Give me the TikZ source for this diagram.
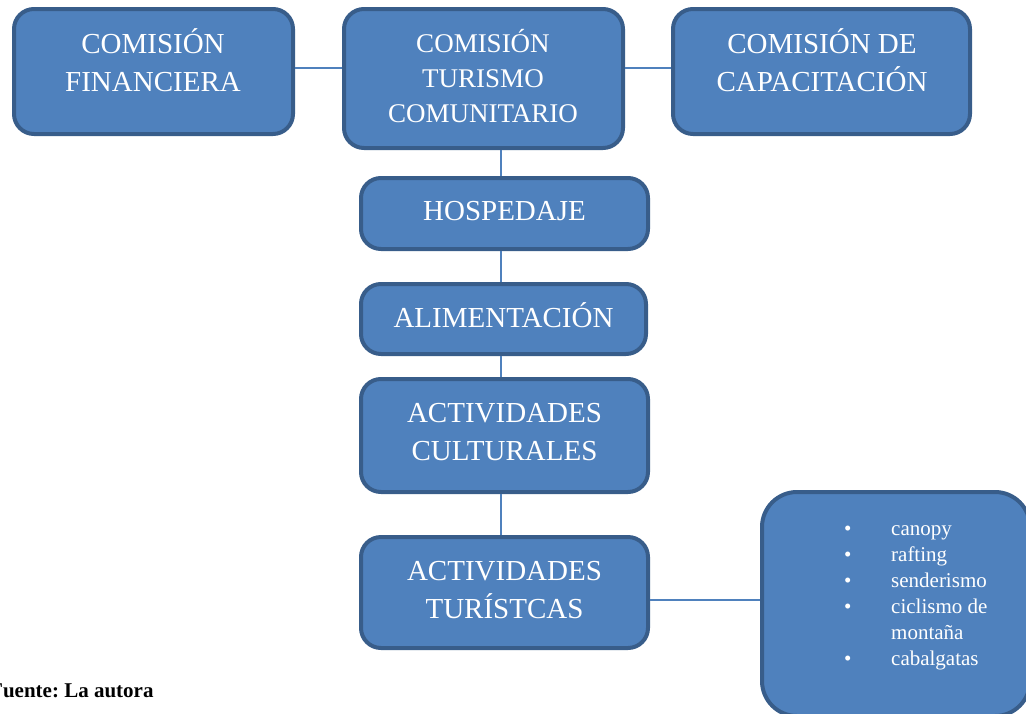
\documentclass[tikz,border=0pt]{standalone}
\usepackage{fontspec}
\setmainfont{Liberation Serif}
\definecolor{boxfill}{HTML}{4F81BD}
\definecolor{boxline}{HTML}{385D8A}
\begin{document}
\frenchspacing
\begin{tikzpicture}[x=1pt,y=-1pt,
  box/.style={draw=boxline, line width=4pt, fill=boxfill, rounded corners=20pt, inner sep=0pt},
  lbl/.style={text=white, align=center, inner sep=0pt, font=\fontsize{29}{38}\selectfont},
  conn/.style={draw=boxfill, line width=2pt}]
\useasboundingbox (0,0) rectangle (1026,713);
% boxes
\node[box, minimum width=279pt, minimum height=125pt] (fin) at (153.5,71.5) {};
\node[box, minimum width=279pt, minimum height=139pt] (tur) at (483.5,78.5) {};
\node[box, minimum width=297pt, minimum height=125pt] (cap) at (821.5,71.5) {};
\node[box, minimum width=287pt, minimum height=71pt] (hos) at (504.5,213.5) {};
\node[box, minimum width=285pt, minimum height=70pt] (ali) at (503.5,319) {};
\node[box, minimum width=287pt, minimum height=113pt] (cul) at (504.5,435.5) {};
\node[box, minimum width=287pt, minimum height=111pt] (act) at (504.5,592.5) {};
\node[box, rounded corners=35pt, minimum width=268pt, minimum height=224pt] (lst) at (896,604) {};
% connectors
\draw[conn] ([yshift=3.5pt]fin.east) -- ([yshift=3.5pt]fin.east -| tur.west);
\draw[conn] ([yshift=3.5pt]cap.west) -- ([yshift=3.5pt]cap.west -| tur.east);
\draw[conn] ([xshift=-3.5pt]hos.north) -- ([xshift=-3.5pt]hos.north |- tur.south);
\draw[conn] ([xshift=-3.5pt]hos.south) -- ([xshift=-3.5pt]hos.south |- ali.north);
\draw[conn] ([xshift=-2.5pt]ali.south) -- ([xshift=-2.5pt]ali.south |- cul.north);
\draw[conn] ([xshift=-3.5pt]cul.south) -- ([xshift=-3.5pt]cul.south |- act.north);
\draw[conn] ([yshift=-7.5pt]act.east) -- ([yshift=-7.5pt]act.east -| lst.west);
% texts
\node[lbl] (tfin) at (153,60) {COMISIÓN\\FINANCIERA};
\node[lbl, font=\fontsize{27}{35}\selectfont] (ttur) at (483,76) {COMISIÓN\\TURISMO\\COMUNITARIO};
\node[lbl] (tcap) at (822,60) {COMISIÓN DE\\CAPACITACIÓN};
\node[lbl] (thos) at (504.5,211) {HOSPEDAJE};
\node[lbl] (tali) at (503.5,315) {ALIMENTACIÓN};
\node[lbl] (tcul) at (504.5,432) {ACTIVIDADES\\CULTURALES};
\node[lbl] (tact) at (504.5,590) {ACTIVIDADES\\TURÍSTCAS};
\node[text=white, inner sep=0pt, anchor=west, font=\fontsize{21}{26}\selectfont] (tlst) at (844,595)
  {\begin{tabular}{@{}p{47pt}@{}l@{}}
  \textbullet & canopy\\
  \textbullet & rafting\\
  \textbullet & senderismo\\
  \textbullet & ciclismo de\\
   & montaña\\
  \textbullet & cabalgatas
  \end{tabular}};
\node[anchor=base west, inner sep=0pt, font=\fontsize{21}{23}\selectfont\bfseries] (fuente) at (-10,697) {Fuente: La autora};
\end{tikzpicture}
\end{document}
